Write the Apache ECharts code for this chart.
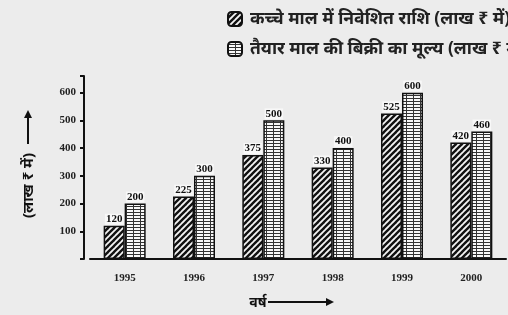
<!DOCTYPE html>
<html><head><meta charset="utf-8">
<script src="https://cdn.jsdelivr.net/npm/echarts@6/dist/echarts.min.js"></script>
<style>html,body{margin:0;padding:0;background:#ececec}#c{width:508px;height:315px}</style>
</head><body><div id="c"></div>
<script>
const years = ['1995','1996','1997','1998','1999','2000'];
const rawMaterial = [120, 225, 375, 330, 525, 420];
const salesValue = [200, 300, 500, 400, 600, 460];
const seriesNames = ['कच्चे माल में निवेशित राशि (लाख ₹ में)', 'तैयार माल की बिक्री का मूल्य (लाख ₹ में)'];
const yTicks = [100, 200, 300, 400, 500, 600];

function hatch(){
  const s = 6, c = document.createElement('canvas'); c.width = s; c.height = s;
  const g = c.getContext('2d'); g.fillStyle = '#f4f4f4'; g.fillRect(0,0,s,s);
  g.strokeStyle = '#111'; g.lineWidth = 2.4;
  for (const o of [-s, 0, s]) { g.beginPath(); g.moveTo(o - 1, s + 1); g.lineTo(o + s + 1, -1); g.stroke(); }
  return c;
}
function gridPat(){
  const c = document.createElement('canvas'); c.width = 7; c.height = 3;
  const g = c.getContext('2d'); g.fillStyle = '#333'; g.fillRect(0,0,7,3);
  g.fillStyle = '#f8f8f8'; g.fillRect(1,0,6,2);
  return c;
}
const serif = 'Liberation Serif, DejaVu Serif, serif';
const hind = 'Noto Sans, sans-serif';
const labelStyle = {show: true, position: 'top', distance: 1, color: '#111', fontFamily: serif, fontWeight: 'bold', fontSize: 11, backgroundColor: '#f8f8f8', padding: [0, 1]};
function arrow(x1, y1, x2, y2){
  const dx = x2 - x1, dy = y2 - y1, L = Math.hypot(dx, dy), ux = dx / L, uy = dy / L, h = 8, w = 4;
  return [
    {type: 'line', shape: {x1, y1, x2: x2 - ux * h * 0.6, y2: y2 - uy * h * 0.6}, style: {stroke: '#111', lineWidth: 2}},
    {type: 'polygon', shape: {points: [[x2, y2], [x2 - ux * h - uy * w, y2 - uy * h + ux * w], [x2 - ux * h + uy * w, y2 - uy * h - ux * w]]}, style: {fill: '#111'}}
  ];
}
const chart = echarts.init(document.getElementById('c'));
chart.setOption({
  backgroundColor: '#ececec',
  animation: false,
  legend: {
    orient: 'vertical', left: 227, top: 10, padding: 0, itemGap: 12, itemWidth: 14, itemHeight: 14,
    textStyle: {fontSize: 17.5, fontWeight: 'bold', color: '#222', fontFamily: hind, padding: [0, 0, 0, 3]},
    data: seriesNames
  },
  graphic: [].concat(arrow(268, 302, 334, 302), arrow(28, 144, 28, 110)),
  grid: {left: 90, right: 2, top: 76, bottom: 52},
  xAxis: {
    type: 'category', data: years,
    axisLine: {lineStyle: {color: '#111', width: 2}},
    axisTick: {show: false},
    axisLabel: {color: '#222', fontFamily: serif, fontWeight: 'bold', fontSize: 11, margin: 14},
    name: 'वर्ष', nameLocation: 'middle', nameGap: 37,
    nameTextStyle: {color: '#111', fontSize: 14, fontWeight: 'bold', fontFamily: hind, padding: [0, 80, 0, 0]}
  },
  yAxis: {
    type: 'value', min: 0, max: 660, interval: 100, offset: 6,
    axisLine: {show: true, lineStyle: {color: '#111', width: 2}},
    axisTick: {show: true, length: 4, lineStyle: {color: '#111', width: 2}},
    splitLine: {show: false},
    axisLabel: {color: '#222', fontFamily: serif, fontWeight: 'bold', fontSize: 11, margin: 8,
      formatter: v => yTicks.indexOf(v) >= 0 ? String(v) : ''},
    name: '(लाख ₹ में)', nameLocation: 'middle', nameGap: 48,
    nameTextStyle: {color: '#111', fontSize: 15, fontWeight: 'bold', fontFamily: hind, padding: [0, 36, 0, 0]}
  },
  series: [
    {name: seriesNames[0], type: 'bar', data: rawMaterial, barWidth: 21, barGap: '0%',
     itemStyle: {color: {image: hatch(), repeat: 'repeat'}, borderColor: '#111', borderWidth: 1.5},
     label: labelStyle},
    {name: seriesNames[1], type: 'bar', data: salesValue, barWidth: 21,
     itemStyle: {color: {image: gridPat(), repeat: 'repeat'}, borderColor: '#111', borderWidth: 1.5},
     label: labelStyle}
  ]
});
</script></body></html>
